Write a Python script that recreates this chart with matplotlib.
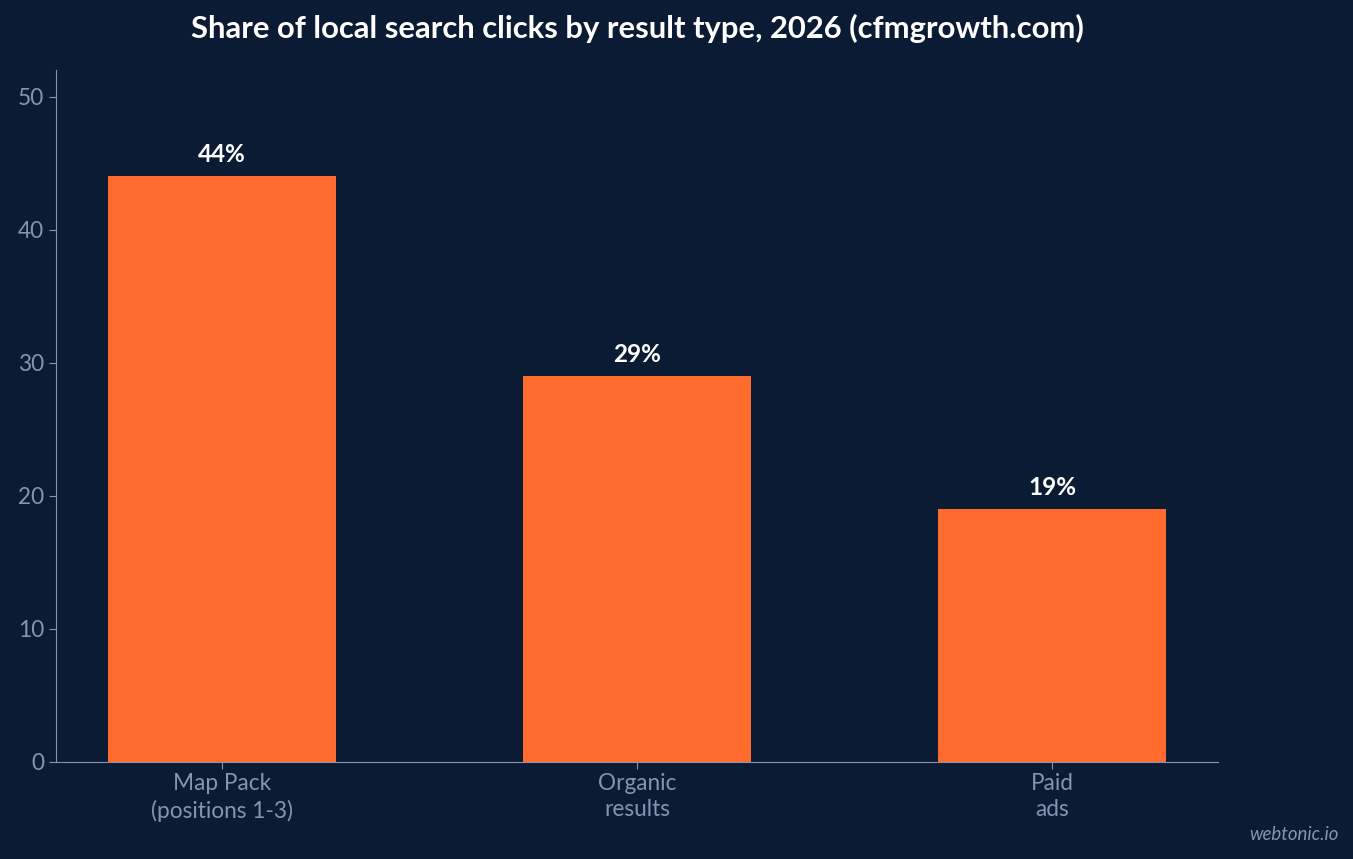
import matplotlib
matplotlib.use("Agg")
import matplotlib.pyplot as plt

categories = ["Map Pack\n(positions 1-3)", "Organic\nresults", "Paid\nads"]
values = [44, 29, 19]
labels = ["44%", "29%", "19%"]

bg = "#0b1b34"
tick_c = "#8595b0"
plt.rcParams['font.family'] = ['Lato', 'DejaVu Sans']

fig = plt.figure(figsize=(13.53, 8.59), dpi=100, facecolor=bg)
ax = fig.add_axes([56/1353, 97/859, 1162/1353, 692/859], facecolor=bg)
x = range(len(values))
ax.bar(x, values, width=0.55, color="#ff6b2c")
for i, v in enumerate(values):
    ax.text(i, v + 0.75, labels[i], ha="center", va="bottom", color="white",
            fontsize=17.5, fontweight="bold")
ax.set_xlim(-0.4, 2.4)
ax.set_ylim(0, 52)
ax.set_yticks([0, 10, 20, 30, 40, 50])
ax.set_xticks(list(x))
ax.set_xticklabels(categories, linespacing=1.3)
ax.tick_params(colors=tick_c, labelsize=16.3, length=5)
ax.tick_params(axis="x", pad=3)
for s in ["top", "right"]:
    ax.spines[s].set_visible(False)
for s in ["left", "bottom"]:
    ax.spines[s].set_color(tick_c)
fig.text(637/1353, 1 - 28/859, "Share of local search clicks by result type, 2026 (cfmgrowth.com)",
         ha="center", va="center", color="white", fontsize=22.3, fontweight="bold")
fig.text(1 - 14/1353, 1 - 834/859, "webtonic.io", ha="right", va="center",
         color=tick_c, fontsize=13.4, style="italic")
fig.savefig("out.png", dpi=100, facecolor=bg)
